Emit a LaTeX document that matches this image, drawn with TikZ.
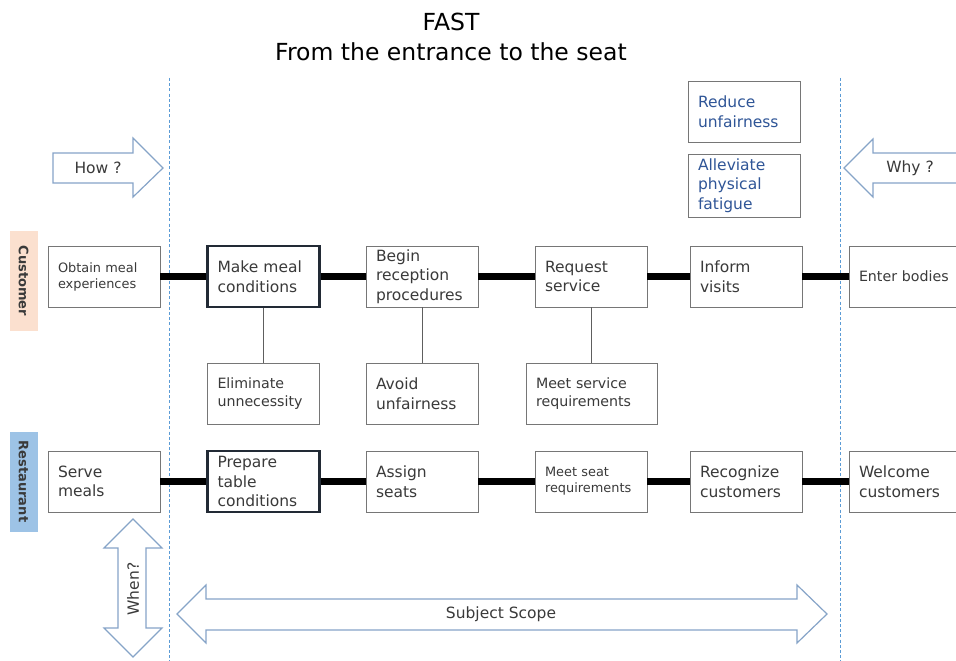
\documentclass[tikz,border=0pt]{standalone}
\usepackage{fontspec}
\setmainfont{DejaVu Sans}
\definecolor{boxgray}{HTML}{767676}
\definecolor{darkbox}{HTML}{222A35}
\definecolor{txt}{HTML}{3A3A3A}
\definecolor{bluetxt}{HTML}{2F5597}
\definecolor{arrowblue}{HTML}{86A4C8}
\definecolor{dashblue}{HTML}{5B9BD5}
\definecolor{peach}{HTML}{FBE0CF}
\definecolor{labblue}{HTML}{9DC3E6}
\newcommand\fbig{\fontsize{15.5}{19.5}\selectfont}
\newcommand\fmid{\fontsize{14.2}{18}\selectfont}
\newcommand\fsmall{\fontsize{12.9}{16}\selectfont}
\newcommand\ftitle{\fontsize{23.5}{30}\selectfont}
\begin{document}
\begin{tikzpicture}[x=1pt,y=-1pt,
  box/.style={draw=boxgray, line width=0.9pt, fill=white, minimum width=112pt, minimum height=61pt,
    inner xsep=10pt, inner ysep=0pt, text width=92pt, align=left, font=\fbig, text=txt},
  keybox/.style={box, draw=darkbox, line width=2.4pt},
  conn/.style={line width=6.5pt, black},
  sub/.style={line width=0.9pt, draw=boxgray!80!black},
  dashline/.style={draw=dashblue, line width=0.8pt, dash pattern=on 3pt off 2.2pt},
  blockarrow/.style={draw=arrowblue, line width=1.2pt, fill=white, line join=miter},
  arrowtext/.style={font=\fbig, text=txt},
  lab/.style={minimum width=100pt, minimum height=28pt, inner sep=0pt, font=\fontsize{13}{15}\selectfont\bfseries, text=txt}
]
\useasboundingbox (0,0) rectangle (956,661);
\clip (0,0) rectangle (956,661);
\fill[white] (0,0) rectangle (956,661);

% title
\node[font=\ftitle, text=black] (t1) at (451,22) {FAST};
\node[font=\ftitle, text=black] (t2) at (451,52) {From the entrance to the seat};

% dashed scope lines
\coordinate (dl1) at (169,78); \coordinate (dl2) at (169,661);
\coordinate (dr1) at (840,78); \coordinate (dr2) at (840,661);
\draw[dashline] (dl1) -- (dl2);
\draw[dashline] (dr1) -- (dr2);

% how / why arrows
\draw[blockarrow] (53,153) -- (133,153) -- (133,138) -- (163,168) -- (133,197) -- (133,183) -- (53,183) -- cycle;
\node[arrowtext] (how) at (98,168) {How ?};
\draw[blockarrow] (965,153) -- (873,153) -- (873,139) -- (844,168) -- (873,197) -- (873,183) -- (965,183);
\node[arrowtext] (why) at (910,168) {Why ?};

% when / subject scope arrows
\draw[blockarrow] (133,519) -- (162,548) -- (146,548) -- (146,628) -- (162,628) -- (133,657) -- (104,628) -- (118,628) -- (118,548) -- (104,548) -- cycle;
\node[arrowtext, rotate=90] (when) at (133,589) {When?};
\draw[blockarrow] (177,614) -- (206,585) -- (206,599) -- (797,599) -- (797,585) -- (827,614) -- (797,643) -- (797,630) -- (206,630) -- (206,643) -- cycle;
\node[arrowtext] (scope) at (501,614) {Subject Scope};

% lane labels
\node[lab, fill=peach, rotate=-90] (lc) at (23.5,281) {Customer};
\node[lab, fill=labblue, rotate=-90] (lr) at (23.5,481.5) {Restaurant};

% blue boxes
\node[box, text=bluetxt] (ru) at (744,111.5) {Reduce\\unfairness};
\node[box, text=bluetxt, minimum height=63pt] (ap) at (744,185.5) {Alleviate\\physical\\fatigue};

% customer row
\node[box, font=\fsmall] (c1) at (104,276.5) {Obtain meal\\experiences};
\node[keybox] (c2) at (263.5,276.5) {Make meal\\conditions};
\node[box] (c3) at (422,276.5) {Begin\\reception\\procedures};
\node[box] (c4) at (591,276.5) {Request\\service};
\node[box] (c5) at (746,276.5) {Inform\\visits};
\node[box, font=\fmid] (c6) at (905,276.5) {Enter bodies};

% sub boxes
\node[box, font=\fmid] (s1) at (263.5,394) {Eliminate\\unnecessity};
\node[box] (s2) at (422,393.5) {Avoid\\unfairness};
\node[box, font=\fmid, minimum width=131pt, text width=111pt] (s3) at (591.5,393.5) {Meet service\\requirements};

% restaurant row
\node[box] (r1) at (104,481.5) {Serve\\meals};
\node[keybox] (r2) at (263.5,481.5) {Prepare\\table\\conditions};
\node[box] (r3) at (422,481.5) {Assign\\seats};
\node[box, font=\fsmall] (r4) at (591,481.5) {Meet seat\\requirements};
\node[box] (r5) at (746,481.5) {Recognize\\customers};
\node[box] (r6) at (905,481.5) {Welcome\\customers};

% thick connectors
\draw[conn] (c1.east) -- (c2.west);
\draw[conn] (c2.east) -- (c3.west);
\draw[conn] (c3.east) -- (c4.west);
\draw[conn] (c4.east) -- (c5.west);
\draw[conn] (c5.east) -- (c6.west);
\draw[conn] (r1.east) -- (r2.west);
\draw[conn] (r2.east) -- (r3.west);
\draw[conn] (r3.east) -- (r4.west);
\draw[conn] (r4.east) -- (r5.west);
\draw[conn] (r5.east) -- (r6.west);

% thin connectors
\draw[sub] (c2.south) -- (s1.north);
\draw[sub] (c3.south) -- (s2.north);
\draw[sub] (c4.south) -- (c4.south |- s3.north);
\end{tikzpicture}
\end{document}
